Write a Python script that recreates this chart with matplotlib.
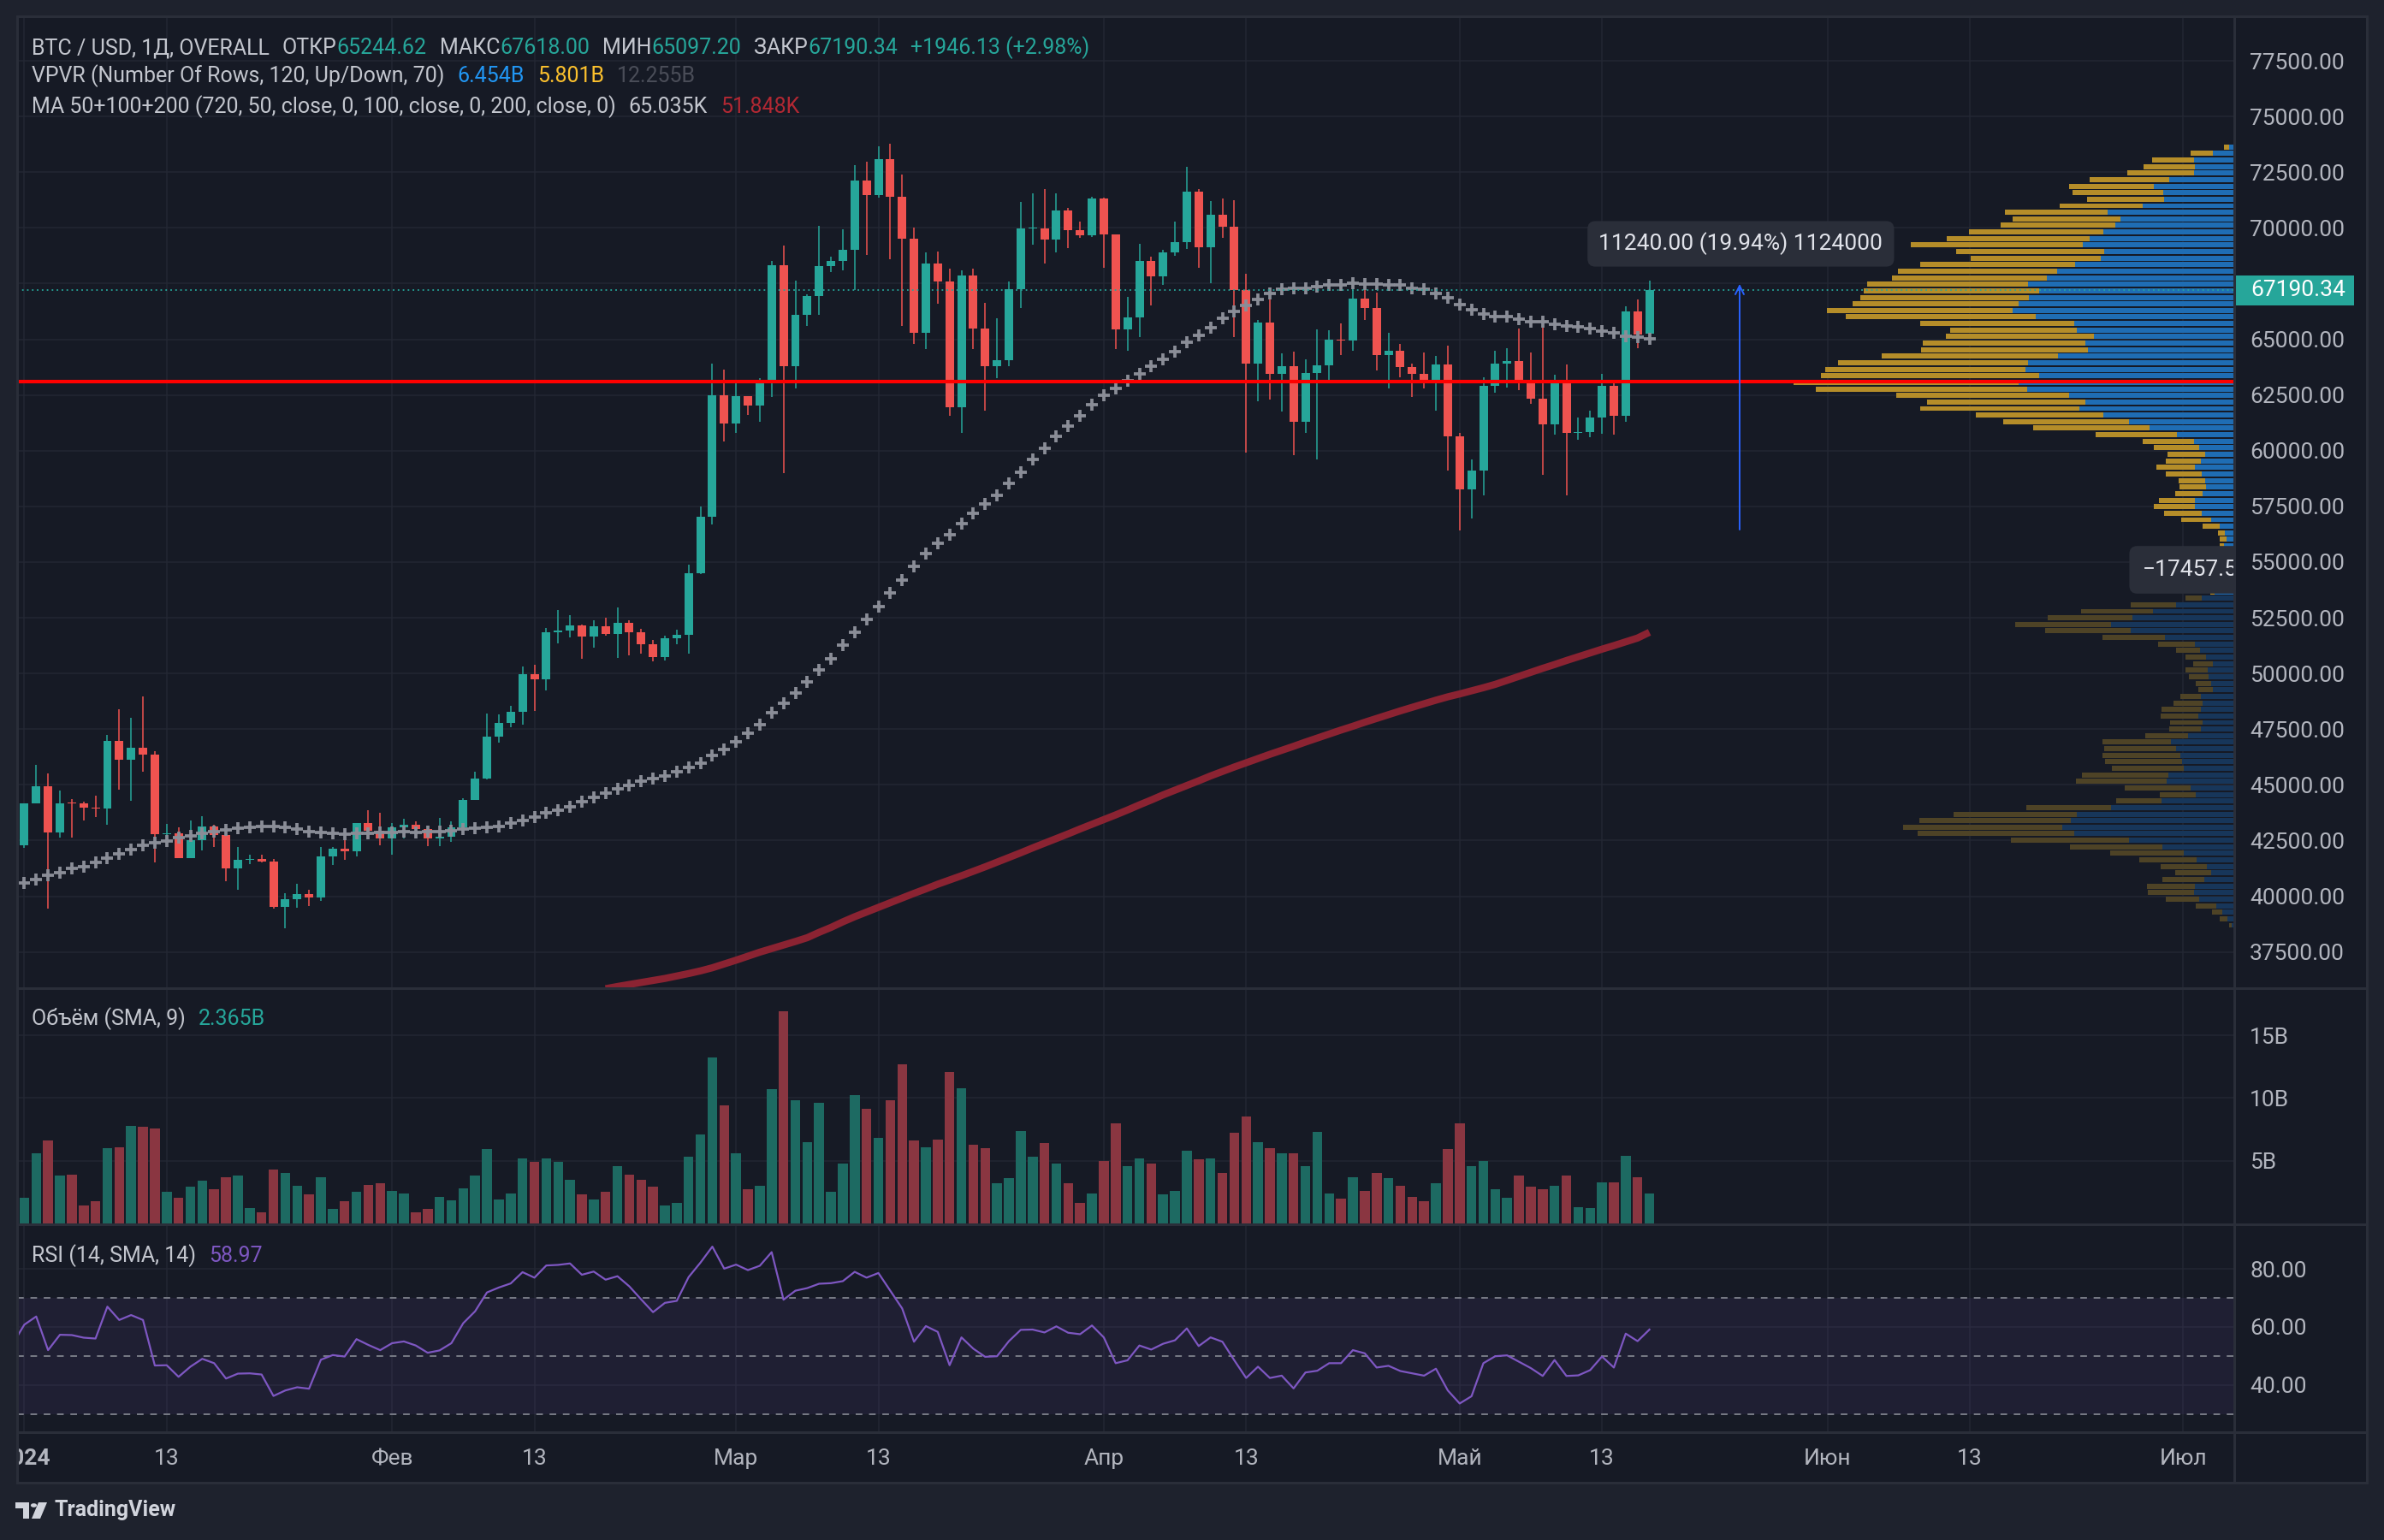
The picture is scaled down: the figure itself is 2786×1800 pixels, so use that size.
import numpy as np
import matplotlib
matplotlib.use('Agg')
import matplotlib.pyplot as plt
import matplotlib.transforms as mtransforms
from matplotlib.patches import Rectangle, Polygon, Circle
from matplotlib.lines import Line2D

plt.rcParams['font.family'] = ['Roboto', 'DejaVu Sans']

# ---- daily candles, 31 Dec 2023 .. 17 May 2024 (day 0 = 1 Jan) ----
days = np.arange(-1, 138)
opens = [42150, 42280, 44180, 44950, 42850, 44180, 44160, 43970, 43940, 46970,
         46120, 46660, 46340, 42780, 42840, 41730, 42510, 43150, 42740, 41260,
         41620, 41670, 41550, 39510, 39850, 40080, 39930, 41800, 42120, 42030,
         43300, 42940, 42580, 43080, 43190, 43000, 42580, 42660, 43090, 44340,
         45300, 47150, 47770, 48290, 49960, 49740, 51830, 51940, 52140, 51660,
         52120, 51780, 52270, 51850, 51300, 50750, 51570, 51730, 54480, 57050,
         62500, 61200, 62440, 62030, 63170, 68330, 63800, 66110, 66940, 68300,
         68500, 69020, 72120, 71480, 73080, 71400, 69500, 65300, 68390, 67610,
         61930, 67860, 65490, 63780, 64060, 67230, 69960, 69990, 69460, 70780,
         69890, 69650, 71330, 69700, 65450, 65970, 68500, 67840, 68900, 69360,
         71620, 69140, 70590, 70060, 67200, 63910, 65740, 63430, 63810, 61280,
         63470, 63840, 64990, 64930, 66840, 66410, 64280, 64500, 63770, 63460,
         63120, 63860, 60640, 58250, 59120, 62890, 63890, 64030, 63160, 62330,
         61190, 63070, 60790, 60820, 61480, 62900, 61550, 66250, 65244.62]
highs = [42890, 44180, 45880, 45500, 44730, 44350, 44230, 44500, 47230, 48400,
         48000, 48970, 46500, 43250, 43080, 43400, 43580, 43200, 42930, 42200,
         41870, 41880, 41680, 40130, 40550, 40300, 42200, 42200, 42840, 43300,
         43850, 43750, 43280, 43480, 43380, 43100, 43500, 43350, 44380, 45600,
         48200, 48150, 48550, 50300, 50400, 52050, 52850, 52600, 52200, 52400,
         52500, 52950, 52370, 52000, 51500, 51700, 51950, 54900, 57500, 63900,
         63650, 63150, 62450, 63250, 68500, 69200, 67650, 67000, 70100, 68700,
         69950, 72800, 72950, 73650, 73780, 72400, 70000, 68900, 68950, 68150,
         68100, 68150, 66650, 65950, 67600, 71150, 71550, 71750, 71550, 70900,
         70300, 71400, 71350, 69700, 66900, 69300, 68700, 69000, 70300, 72750,
         71750, 71200, 71300, 71250, 67950, 65850, 66900, 64350, 64450, 64100,
         65450, 65400, 65700, 67200, 67200, 67100, 65300, 64800, 63900, 64400,
         64250, 64700, 60800, 59600, 63300, 64500, 64600, 65500, 64400, 66000,
         63400, 63850, 61500, 61800, 63450, 63100, 66470, 66790, 67618.00]
lows = [41950, 42180, 44150, 39450, 42630, 42620, 43400, 43570, 43200, 44800,
        44300, 45600, 41500, 42450, 41720, 41720, 42050, 42200, 40680, 40280,
        41450, 41500, 39450, 38550, 39500, 39550, 39800, 41400, 41620, 41800,
        42700, 42300, 41880, 42600, 42880, 42250, 42260, 42440, 42790, 44330,
        45250, 46900, 47600, 47700, 48300, 49250, 51350, 51600, 50650, 51150,
        51700, 50700, 50820, 50900, 50550, 50600, 51300, 50900, 54450, 56700,
        60400, 60800, 61600, 61300, 62400, 59000, 62800, 65600, 66100, 68000,
        68100, 67200, 68800, 71350, 68600, 65600, 64800, 64550, 66600, 61550,
        60800, 64550, 61800, 63250, 63800, 66400, 69230, 68400, 68900, 69100,
        69550, 69600, 68200, 64550, 64500, 65100, 66500, 67450, 68750, 69050,
        68200, 67500, 69550, 65100, 59900, 62200, 62300, 61750, 59800, 60800,
        59600, 63150, 64300, 64500, 65850, 63600, 62800, 63300, 62400, 62800,
        61800, 59100, 56400, 56950, 58000, 62600, 62850, 62700, 62100, 58900,
        60700, 58000, 60500, 60600, 60750, 60700, 61300, 64600, 65097.20]
closes = [42280, 44180, 44950, 42850, 44180, 44160, 43970, 43940, 46970, 46120,
          46660, 46340, 42780, 42840, 41730, 42510, 43150, 42740, 41260, 41620,
          41670, 41550, 39510, 39850, 40080, 39930, 41800, 42120, 42030, 43300,
          42940, 42580, 43080, 43190, 43000, 42580, 42660, 43090, 44340, 45300,
          47150, 47770, 48290, 49960, 49740, 51830, 51940, 52140, 51660, 52120,
          51780, 52270, 51850, 51300, 50750, 51570, 51730, 54480, 57050, 62500,
          61200, 62440, 62030, 63170, 68330, 63800, 66110, 66940, 68300, 68500,
          69020, 72120, 71480, 73080, 71400, 69500, 65300, 68390, 67610, 61930,
          67860, 65490, 63780, 64060, 67230, 69960, 69990, 69460, 70780, 69890,
          69650, 71330, 69700, 65450, 65970, 68500, 67840, 68900, 69360, 71620,
          69140, 70590, 70060, 67200, 63910, 65740, 63430, 63810, 61280, 63470,
          63840, 64990, 64930, 66840, 66410, 64280, 64500, 63770, 63460, 63120,
          63860, 60640, 58250, 59120, 62890, 63890, 64030, 63160, 62330, 61190,
          63070, 60790, 60820, 61480, 62900, 61550, 66250, 65230, 67190.34]

# volume, billions
volume = [1.9, 2.06, 5.6, 6.6, 3.85, 3.9, 1.45, 1.8, 6.0, 6.1,
          7.8, 7.7, 7.6, 2.55, 2.06, 2.9, 3.4, 2.7, 3.7, 3.8,
          1.24, 0.9, 4.3, 4.0, 3.0, 2.3, 3.65, 1.17, 1.8, 2.5,
          3.1, 3.2, 2.6, 2.4, 0.9, 1.17, 2.1, 1.86, 2.8, 3.8,
          5.9, 1.9, 2.4, 5.2, 4.9, 5.2, 4.9, 3.5, 2.3, 1.9,
          2.55, 4.6, 3.9, 3.45, 2.9, 1.45, 1.65, 5.3, 7.1, 13.2,
          9.4, 5.6, 2.7, 3.0, 10.7, 16.9, 9.8, 6.5, 9.6, 2.55,
          4.75, 10.2, 9.15, 6.8, 9.8, 12.7, 6.6, 6.05, 6.7, 12.1,
          10.8, 6.3, 6.0, 3.2, 3.6, 7.4, 5.3, 6.4, 4.8, 3.2,
          1.65, 2.4, 4.95, 8.0, 4.6, 5.2, 4.75, 2.3, 2.6, 5.8,
          5.1, 5.2, 4.0, 7.2, 8.5, 6.5, 6.0, 5.6, 5.6, 4.6,
          7.3, 2.4, 2.0, 3.65, 2.6, 4.0, 3.6, 3.0, 2.1, 1.8,
          3.2, 5.9, 8.0, 4.6, 4.95, 2.75, 2.06, 3.8, 2.9, 2.75,
          3.0, 3.8, 1.3, 1.24, 3.3, 3.3, 5.4, 3.65, 2.4]

ma50 = [40460, 40610, 40764, 40930, 41058, 41250, 41340, 41506, 41698, 41890,
        42082, 42274, 42402, 42492, 42620, 42696, 42824, 42914, 42978, 43068,
        43106, 43132, 43132, 43106, 43004, 42914, 42850, 42824, 42786, 42824,
        42824, 42850, 42876, 42914, 42876, 42914, 42914, 42952, 43004, 43068,
        43106, 43144, 43272, 43388, 43554, 43746, 43874, 44028, 44258, 44450,
        44642, 44834, 44962, 45154, 45282, 45410, 45602, 45794, 45986, 46332,
        46588, 46946, 47330, 47714, 48252, 48674, 49122, 49634, 50172, 50658,
        51272, 51836, 52420, 53000, 53600, 54200, 54800, 55394, 55842, 56226,
        56738, 57186, 57596, 57980, 58530, 59042, 59592, 60104, 60642, 61090,
        61564, 62050, 62498, 62794, 63138, 63458, 63778, 64098, 64444, 64866,
        65186, 65506, 65954, 66248, 66504, 66786, 67042, 67234, 67272, 67298,
        67362, 67426, 67452, 67516, 67490, 67490, 67452, 67426, 67298, 67234,
        67068, 66850, 66556, 66338, 66120, 66018, 66018, 65916, 65788, 65788,
        65660, 65610, 65546, 65468, 65378, 65276, 65148, 65097, 65035]

ma200_days = np.arange(49, 138)
ma200 = [35850, 35950, 36040, 36130, 36220, 36310, 36420, 36530, 36650, 36790,
         36960, 37130, 37310, 37490, 37650, 37810, 37970, 38140, 38380, 38600,
         38850, 39080, 39290, 39500, 39710, 39920, 40130, 40330, 40540, 40730,
         40920, 41120, 41320, 41530, 41740, 41950, 42170, 42380, 42590, 42800,
         43020, 43230, 43440, 43650, 43870, 44100, 44320, 44550, 44760, 44970,
         45180, 45400, 45600, 45800, 45990, 46180, 46370, 46550, 46730, 46920,
         47100, 47280, 47460, 47630, 47810, 47980, 48150, 48320, 48480, 48640,
         48800, 48950, 49080, 49220, 49360, 49510, 49690, 49870, 50050, 50230,
         50400, 50580, 50750, 50920, 51090, 51250, 51420, 51590, 51848]

rsi = [54.0, 60.8, 63.6, 52.0, 57.3, 57.2, 56.3, 56.0, 67.0, 62.4,
       64.1, 62.4, 46.7, 46.8, 42.8, 46.3, 49.0, 47.5, 42.2, 43.9,
       44.0, 43.6, 36.2, 38.1, 39.2, 38.7, 48.7, 50.3, 49.8, 55.8,
       53.8, 52.0, 54.4, 55.0, 53.6, 51.1, 51.9, 54.4, 61.3, 65.4,
       71.9, 73.6, 75.0, 78.9, 77.0, 81.2, 81.4, 81.9, 78.0, 79.1,
       76.3, 77.5, 74.0, 69.5, 65.1, 68.3, 69.0, 77.2, 82.2, 87.7,
       80.1, 81.5, 79.6, 81.1, 85.8, 69.4, 72.5, 73.4, 74.9, 75.1,
       75.8, 79.0, 77.0, 78.6, 72.5, 66.4, 54.9, 60.3, 58.3, 46.8,
       56.4, 52.5, 49.7, 49.9, 55.1, 59.0, 59.1, 58.1, 60.2, 58.0,
       57.5, 60.5, 56.4, 47.5, 48.5, 53.6, 52.2, 54.2, 55.4, 59.5,
       53.4, 56.4, 54.9, 48.5, 42.4, 46.3, 42.4, 43.2, 38.8, 44.3,
       44.9, 47.5, 47.5, 52.0, 50.9, 46.0, 46.6, 44.8, 44.0, 43.2,
       45.6, 38.1, 33.6, 36.1, 47.5, 49.9, 50.2, 48.0, 45.8, 43.1,
       48.6, 43.1, 43.3, 45.1, 49.8, 46.0, 57.7, 55.1, 59.1]

# volume profile rows, top (highest price) to bottom: down (yellow) / up (blue)
vp_down = [14, 56, 105, 128, 167, 198, 211, 226, 191, 207,
           256, 269, 286, 334, 356, 428, 368, 324, 384, 396,
           385, 401, 436, 420, 413, 462, 473, 384, 315, 369,
           404, 414, 437, 473, 498, 541, 558, 524, 430, 394,
           394, 317, 313, 290, 202, 129, 113, 94, 87, 96,
           89, 66, 66, 68, 89, 102, 94, 75, 43, 17,
           17, 10, 8, 6, 6, 5, 6, 8, 12, 40,
           113, 179, 211, 239, 213, 155, 92, 60, 51, 49,
           55, 49, 39, 36, 51, 72, 98, 94, 81, 79,
           107, 170, 179, 194, 192, 179, 215, 226, 164, 89,
           113, 211, 305, 377, 396, 390, 294, 230, 183, 142,
           115, 90, 104, 119, 115, 83, 51, 25, 19, 7]
vp_up = [12, 53, 99, 98, 99, 162, 200, 177, 175, 228,
         315, 283, 296, 326, 360, 377, 324, 332, 396, 441,
         467, 513, 486, 511, 537, 552, 494, 398, 392, 349,
         371, 364, 439, 513, 520, 486, 537, 516, 411, 371,
         386, 326, 262, 211, 143, 99, 87, 72, 83, 98,
         81, 72, 70, 79, 98, 98, 81, 57, 36, 23,
         19, 26, 24, 20, 18, 16, 20, 30, 48, 81,
         145, 202, 253, 306, 258, 173, 98, 85, 70, 53,
         66, 64, 57, 53, 83, 79, 83, 89, 79, 83,
         115, 158, 145, 134, 130, 126, 164, 168, 109, 96,
         181, 307, 392, 407, 428, 398, 262, 179, 126, 94,
         68, 57, 75, 98, 100, 87, 45, 30, 17, 6]

level_price = 63100
ruler_lo, ruler_hi = 56350, 67590
ruler_text = '11240.00 (19.94%) 1124000'
tick_days = [0, 12, 31, 43, 60, 72, 91, 103, 121, 133, 152, 164, 182]
tick_names = ['2024', '13', 'Фев', '13', 'Мар', '13', 'Апр', '13', 'Май', '13', 'Июн', '13', 'Июл']

# ---- style ----
BG = '#161a25'
OUTER = '#1e222d'
GRID = '#232733'
SEP = '#2a2e39'
TXT = '#b2b5be'
LEG = '#c3c6ce'
UP, DN = '#26a69a', '#ef5350'
VUP, VDN = '#1d6a62', '#8a3641'

W, H = 2786, 1800
XL, XR = -0.61, 186.3
PL, PR = 20, 2611

fig = plt.figure(figsize=(W / 100, H / 100), dpi=100, facecolor=OUTER)


def fx(px):
    return px / W


def fy(py):
    return 1 - py / H


def pane(top, bottom):
    a = fig.add_axes([fx(PL), fy(bottom), fx(PR) - fx(PL), (bottom - top) / H])
    a.set_facecolor(BG)
    for s in a.spines.values():
        s.set_visible(False)
    a.set_xlim(XL, XR)
    a.yaxis.tick_right()
    a.tick_params(axis='y', length=0, pad=13, labelsize=19, labelcolor=TXT)
    a.tick_params(axis='x', length=0, labelbottom=False)
    a.set_xticks(tick_days)
    a.grid(True, color=GRID, lw=1.1)
    a.set_axisbelow(True)
    return a


fig.patches.append(Rectangle((fx(20), fy(1733)), fx(2766) - fx(20), (1733 - 19) / H,
                             transform=fig.transFigure, fc=BG, ec='none', zorder=-10))

ax = pane(19, 1155)
axv = pane(1155, 1431)
axr = pane(1431, 1674)
axt = fig.add_axes([fx(PL), fy(1733), fx(PR) - fx(PL), (1733 - 1674) / H])
axt.set_facecolor(BG)
axt.set_xlim(XL, XR)
axt.set_ylim(0, 1)
axt.axis('off')

# ---- price pane ----
o = np.array(opens); hi = np.array(highs); lo = np.array(lows); c = np.array(closes)
up = c >= o
col = np.where(up, UP, DN)
ax.set_ylim(35874, 79497)
pticks = np.arange(37500, 77501, 2500)
ax.set_yticks(pticks)
# the last-price tag hides the 67500 label, as in the reference
ax.set_yticklabels(['' if v == 67500 else f'{v:.2f}' for v in pticks])

# volume profile (visible range)
edges = np.linspace(lo.min(), hi.max(), len(vp_up) + 1)
rowh = edges[1] - edges[0]
rows_y = edges[::-1][:-1] - rowh / 2
sc = 1 / 29.5
vu = np.array(vp_up) * sc
vd = np.array(vp_down) * sc
va = np.arange(len(vp_up)) < 69
ax.barh(rows_y, vu, left=XR - vu, height=rowh * 0.78,
        color=np.where(va, '#1f6db4', '#17365a'), zorder=1)
ax.barh(rows_y, vd, left=XR - vu - vd, height=rowh * 0.78,
        color=np.where(va, '#b58d29', '#4e4326'), zorder=1)

ax.plot(ma200_days, ma200, color='#8b2332', lw=6, solid_capstyle='butt', zorder=2)
ax.vlines(days, lo, hi, colors=col, lw=1.1, zorder=3)
body = np.maximum(np.abs(c - o), 45)
ax.bar(days, body, bottom=np.minimum(o, c), width=0.72, color=col, zorder=3)
ax.plot(days, ma50, ls='none', marker='+', ms=9.5, mew=2.7, color='#8a8d97', zorder=4)

ax.axhline(level_price, color='#ff0000', lw=3, zorder=5)
ax.axhline(closes[-1], color=UP, lw=1.3, ls=(0, (1, 2.2)), zorder=5)

# ruler drawing
ax.annotate('', xy=(144.6, ruler_hi), xytext=(144.6, ruler_lo),
            arrowprops=dict(arrowstyle='->', color='#2962ff', lw=1.4, mutation_scale=18), zorder=6)
ax.text(144.7, 69282, ruler_text,
        ha='center', va='center', color='#e1e3ea', fontsize=19, zorder=7,
        bbox=dict(boxstyle='round,pad=0.5,rounding_size=0.35', fc='#2a2e39', ec='none'))
ax.text(178.6, 54652, '−17457.5', ha='left', va='center', color='#e1e3ea', fontsize=19,
        zorder=7, clip_on=True,
        bbox=dict(boxstyle='round,pad=0.6,rounding_size=0.35', fc='#2a2e39', ec='none'))

# last price label on axis
tb = mtransforms.blended_transform_factory(ax.transAxes, ax.transData)
axw = PR - PL
ax.add_patch(Rectangle((1.0, closes[-1] - 672), (2751 - PR) / axw, 1344, transform=tb,
                       fc=UP, ec='none', clip_on=False, zorder=8))
ax.text(1.0 + 19 / axw, closes[-1], f'{closes[-1]:.2f}', transform=tb, ha='left', va='center',
        color='white', fontsize=19, clip_on=False, zorder=9)

# ---- volume pane ----
axv.set_ylim(-0.07, 18.76)
axv.set_yticks([5, 10, 15])
axv.set_yticklabels(['5B', '10B', '15B'])
axv.bar(days, volume, width=0.83, color=np.where(up, VUP, VDN), zorder=2)

# ---- RSI pane ----
axr.set_ylim(23.7, 95.4)
axr.set_yticks([40, 60, 80])
axr.set_yticklabels(['40.00', '60.00', '80.00'])
axr.axhspan(30, 70, color='#7e57c2', alpha=0.09, lw=0, zorder=1)
for lv in (30, 50, 70):
    axr.axhline(lv, color='#787b86', lw=1.4, ls=(0, (4, 4)), zorder=2)
axr.plot(days, rsi, color='#7e57c2', lw=1.6, zorder=3)

# ---- time axis ----
for d, name in zip(tick_days, tick_names):
    axt.text(d, 0.47, name, ha='center', va='center', color=TXT, fontsize=19,
             fontweight='bold' if name == '2024' else 'normal', clip_on=True)

# ---- separators ----
for yy in (1155, 1431, 1674):
    fig.add_artist(Line2D([fx(20), fx(2766)], [fy(yy), fy(yy)], color=SEP, lw=2.2, zorder=10))
fig.add_artist(Line2D([fx(PR), fx(PR)], [fy(19), fy(1733)], color=SEP, lw=2.2, zorder=10))
fig.add_artist(Rectangle((fx(20), fy(1733)), fx(2766) - fx(20), (1733 - 19) / H,
                         transform=fig.transFigure, fc='none', ec=SEP, lw=2.2, zorder=10))

# ---- legends ----
renderer = fig.canvas.get_renderer()


def seq_text(x_px, y_px, parts, size=18):
    x = fx(x_px)
    for s, colr, gap in parts:
        t = fig.text(x, fy(y_px), s, color=colr, fontsize=size, ha='left', va='center', zorder=11)
        bb = t.get_window_extent(renderer=renderer)
        x += (bb.width + gap) / W


seq_text(37, 56, [('BTC / USD, 1Д, OVERALL', LEG, 15), ('ОТКР', LEG, 0), ('65244.62', UP, 15),
                  ('МАКС', LEG, 0), ('67618.00', UP, 15), ('МИН', LEG, 0), ('65097.20', UP, 15),
                  ('ЗАКР', LEG, 0), ('67190.34', UP, 15), ('+1946.13 (+2.98%)', UP, 0)])
seq_text(37, 89, [('VPVR (Number Of Rows, 120, Up/Down, 70)', LEG, 15), ('6.454B', '#2196f3', 15),
                  ('5.801B', '#fbc02d', 15), ('12.255B', '#4a4d58', 0)])
seq_text(37, 125, [('MA 50+100+200 (720, 50, close, 0, 100, close, 0, 200, close, 0)', LEG, 15),
                   ('65.035K', LEG, 15), ('51.848K', '#b22833', 0)])
seq_text(37, 1191, [('Объём (SMA, 9)', LEG, 15), ('2.365B', UP, 0)])
seq_text(37, 1468, [('RSI (14, SMA, 14)', LEG, 15), ('58.97', '#7e57c2', 0)])

# ---- TradingView mark ----
def pts(lst):
    return [(fx(a), fy(b)) for a, b in lst]


fig.add_artist(Polygon(pts([(18, 1756), (34, 1756), (34, 1775), (27, 1775), (27, 1763), (18, 1763)]),
                       closed=True, fc='#d1d4dc', ec='none', transform=fig.transFigure))
fig.add_artist(Circle((fx(39.5), fy(1759.5)), 3.6 / W, fc='#d1d4dc', ec='none', transform=fig.transFigure))
fig.add_artist(Polygon(pts([(45, 1756), (55, 1756), (47, 1775), (37, 1775)]),
                       closed=True, fc='#d1d4dc', ec='none', transform=fig.transFigure))
fig.text(fx(64), fy(1765), 'TradingView', color='#d1d4dc', fontsize=18, fontweight='bold',
         ha='left', va='center')

fig.savefig('out.png', dpi=100, facecolor=OUTER)
